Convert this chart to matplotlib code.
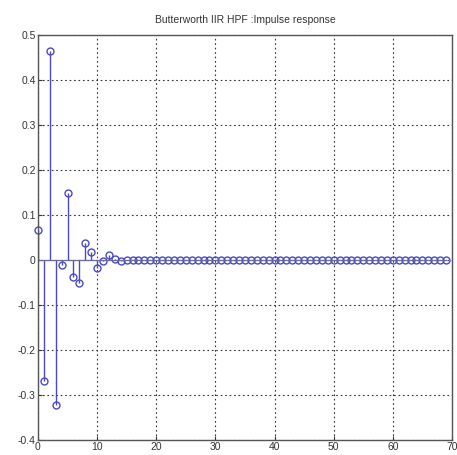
import matplotlib
matplotlib.use('Agg')
import matplotlib.pyplot as plt
import numpy as np

# impulse response samples
n = list(range(70))
h_head = [0.067, -0.27, 0.465, -0.322, -0.01, 0.148, -0.037, -0.05,
          0.037, 0.018, -0.018, -0.002, 0.012, 0.002, -0.003]
h = h_head + [0.0] * (len(n) - len(h_head))

x_ticks = [0, 10, 20, 30, 40, 50, 60, 70]
y_ticks = [-0.4, -0.3, -0.2, -0.1, 0, 0.1, 0.2, 0.3, 0.4, 0.5]
title = 'Butterworth IIR HPF :Impulse response'

plt.rcParams['font.family'] = ['Liberation Sans', 'DejaVu Sans']

fig = plt.figure(figsize=(4.57, 4.55), dpi=100)
ax = fig.add_axes([0.083, 0.033, 0.906, 0.890])

stem_color = '#4a4ac8'
markerline, stemlines, baseline = ax.stem(n, h, basefmt='-')
plt.setp(stemlines, color=stem_color, linewidth=1.0)
plt.setp(markerline, marker='o', markersize=5, markerfacecolor='none',
         markeredgecolor=stem_color, markeredgewidth=1.0, clip_on=False)
plt.setp(baseline, color='#6a6a9a', linewidth=0.9)

ax.set_xlim(0, 70)
ax.set_ylim(-0.4, 0.5)
ax.set_xticks(x_ticks)
ax.set_yticks(y_ticks)
ax.set_yticklabels(['-0.4', '-0.3', '-0.2', '-0.1', '0', '0.1', '0.2', '0.3', '0.4', '0.5'])
ax.grid(True, linestyle=(0, (1.5, 2.5)), color='#333333', linewidth=0.8)
ax.tick_params(direction='in', labelsize=7.5, colors='#333333', length=3, pad=1.5)
for s in ax.spines.values():
    s.set_color('#555555')
    s.set_linewidth(1.0)

ax.set_title(title, fontsize=7.5, color='#333333', pad=9)

fig.savefig('out.png', dpi=100)
